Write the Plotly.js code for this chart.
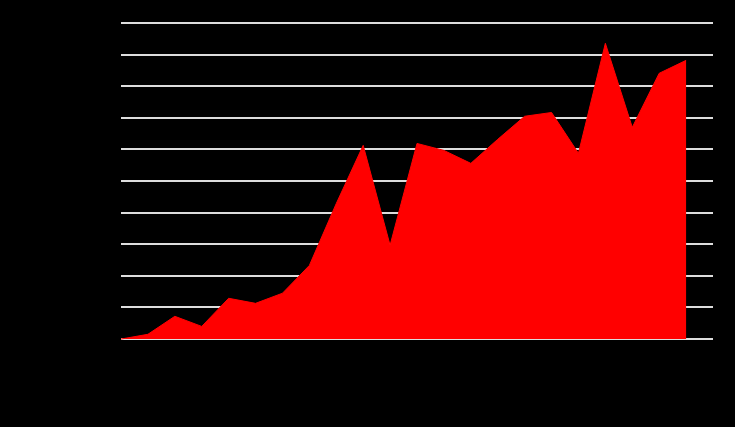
<!DOCTYPE html>
<html>
<head>
<meta charset="utf-8">
<script src="https://cdn.plot.ly/plotly-3.0.1.min.js"></script>
<style>html,body{margin:0;padding:0;background:#000;}</style>
</head>
<body>
<div id="chart" style="width:735px;height:427px;"></div>
<script>
var years = [2000,2001,2002,2003,2004,2005,2006,2007,2008,2009,2010,2011,2012,2013,2014,2015,2016,2017,2018,2019,2020,2021];
var values = [0,1.5,7.2,4.0,12.9,11.3,14.5,23.3,42.9,61.3,29.7,61.9,59.7,55.6,63.2,70.5,71.7,58.8,93.6,67.0,84.1,88.2];

var trace = {
  x: years,
  y: values,
  type: 'scatter',
  mode: 'lines',
  fill: 'tozeroy',
  fillcolor: '#ff0000',
  line: {color: '#ff0000', width: 1},
  hoverinfo: 'none'
};

var layout = {
  width: 735,
  height: 427,
  paper_bgcolor: '#000000',
  plot_bgcolor: '#000000',
  showlegend: false,
  margin: {l: 121, r: 22, t: 20, b: 87},
  font: {family: 'Open Sans, sans-serif', color: '#000000', size: 12},
  xaxis: {
    range: [2000, 2022],
    showgrid: false,
    zeroline: false,
    showline: false,
    ticklabelstandoff: 10,
    tickfont: {color: '#000000'}
  },
  yaxis: {
    range: [-0.3, 100.97],
    tickvals: [0,10,20,30,40,50,60,70,80,90,100],
    showgrid: true,
    gridcolor: '#dddddd',
    gridwidth: 2,
    zeroline: true,
    zerolinecolor: '#dddddd',
    zerolinewidth: 2,
    showline: false,
    tickfont: {color: '#000000'}
  }
};

Plotly.newPlot('chart', [trace], layout, {displayModeBar: false, staticPlot: true});
</script>
</body>
</html>
